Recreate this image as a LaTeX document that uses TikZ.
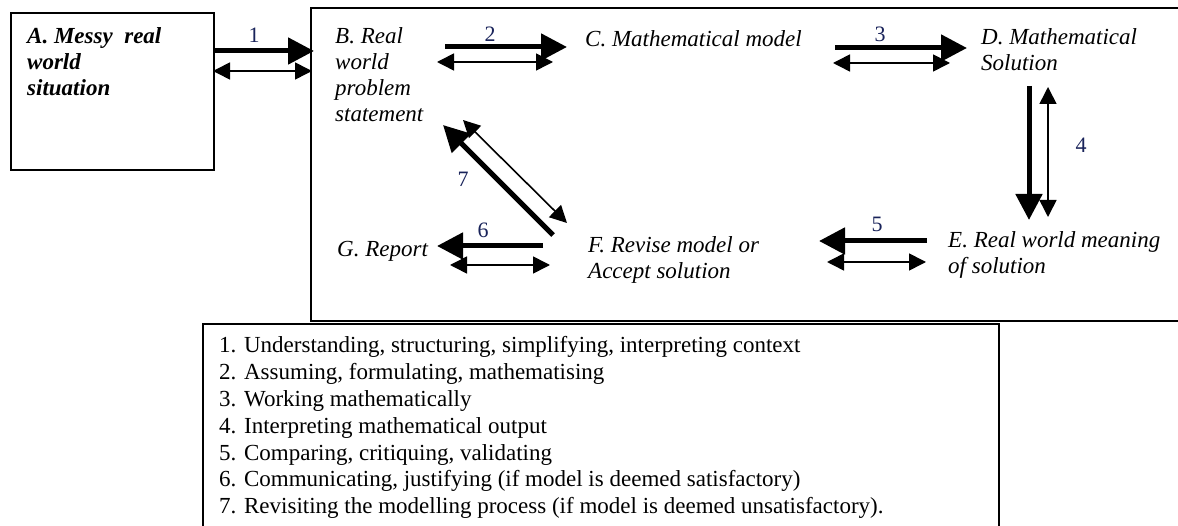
\documentclass[tikz,border=0pt]{standalone}
\usepackage{fontspec}
\setmainfont{Liberation Serif}
\usetikzlibrary{arrows.meta}
\definecolor{numblue}{RGB}{25,35,90}
\newcommand\mlines[1]{\parbox[t]{400pt}{\raggedright #1}}
\newcommand\widelines[1]{\parbox[t]{900pt}{\raggedright #1}}
\begin{document}
\begin{tikzpicture}[x=1pt,y=-1pt,
  box/.style={draw, line width=1.6pt, inner sep=0pt},
  lbl/.style={font=\fontsize{23}{26}\selectfont\itshape, anchor=base west, inner sep=0pt},
  num/.style={font=\fontsize{22}{26}\selectfont, text=numblue, anchor=base, inner sep=0pt},
  bigarrow/.style={line width=5pt, -{Triangle[length=26pt,width=26pt]}},
  smallarrow/.style={line width=1.6pt, {Triangle[length=17pt,width=17pt]}-{Triangle[length=17pt,width=17pt]}},
]
\clip (0,0) rectangle (1178,526);
\fill[white] (0,0) rectangle (1178,526);

% boxes
\node[box, anchor=north west, minimum width=203pt, minimum height=157pt] (A) at (10,12) {};
\node[box, anchor=north west, minimum width=900pt, minimum height=313pt] (frame) at (310,7) {};
\node[box, anchor=north west, minimum width=796pt, minimum height=260pt] (legbox) at (202,323) {};

% texts
\node[lbl, font=\fontsize{23}{26}\selectfont\bfseries\itshape] (tA) at (27,44) {\mlines{A. Messy\ \ real\\world\\situation}};
\node[lbl] (tB) at (335,44) {\mlines{B. Real\\world\\problem\\statement}};
\node[lbl] (tC) at (585,47) {C. Mathematical model};
\node[lbl] (tD) at (981,45) {\mlines{D. Mathematical\\Solution}};
\node[lbl] (tE) at (948,248) {\mlines{E. Real world meaning\\of solution}};
\node[lbl] (tF) at (588,253) {\mlines{F. Revise model or\\Accept solution}};
\node[lbl] (tG) at (337,257) {G. Report};

% legend
\node[anchor=base west, inner sep=0pt, font=\fontsize{23}{26.8}\selectfont] (legend) at (219,353) {\widelines{%
1. Understanding, structuring, simplifying, interpreting context\\
2. Assuming, formulating, mathematising\\
3. Working mathematically\\
4. Interpreting mathematical output\\
5. Comparing, critiquing, validating\\
6. Communicating, justifying (if model is deemed satisfactory)\\
7. Revisiting the modelling process (if model is deemed unsatisfactory).}};

% arrow end points
\coordinate (p1a) at (214,51);  \coordinate (p1b) at (314,51);
\coordinate (q1a) at (213,71);  \coordinate (q1b) at (312,71);
\coordinate (p2a) at (445,47);  \coordinate (p2b) at (567,47);
\coordinate (q2a) at (437,62);  \coordinate (q2b) at (553,62);
\coordinate (p3a) at (835,48);  \coordinate (p3b) at (967,48);
\coordinate (q3a) at (833,63);  \coordinate (q3b) at (950,63);
\coordinate (p4a) at (1029,86); \coordinate (p4b) at (1029,220);
\coordinate (q4a) at (1048,87); \coordinate (q4b) at (1048,217);
\coordinate (p5a) at (927,241); \coordinate (p5b) at (819,241);
\coordinate (q5a) at (827,262); \coordinate (q5b) at (926,262);
\coordinate (p6a) at (543,246); \coordinate (p6b) at (437,246);
\coordinate (q6a) at (450,265); \coordinate (q6b) at (550,265);
\coordinate (p7a) at (553,235); \coordinate (p7b) at (443,125);
\coordinate (q7a) at (463,120); \coordinate (q7b) at (567,223);

\draw[bigarrow] (p1a) -- (p1b);  \draw[smallarrow] (q1a) -- (q1b);
\draw[bigarrow] (p2a) -- (p2b);  \draw[smallarrow] (q2a) -- (q2b);
\draw[bigarrow] (p3a) -- (p3b);  \draw[smallarrow] (q3a) -- (q3b);
\draw[bigarrow] (p4a) -- (p4b);  \draw[smallarrow] (q4a) -- (q4b);
\draw[bigarrow] (p5a) -- (p5b);  \draw[smallarrow] (q5a) -- (q5b);
\draw[bigarrow] (p6a) -- (p6b);  \draw[smallarrow] (q6a) -- (q6b);
\draw[bigarrow] (p7a) -- (p7b);  \draw[smallarrow] (q7a) -- (q7b);

% numbers
\node[num] (n1) at (254,43) {1};
\node[num] (n2) at (490,42) {2};
\node[num] (n3) at (880,42) {3};
\node[num] (n4) at (1081,153) {4};
\node[num] (n5) at (877,232) {5};
\node[num] (n6) at (483,238) {6};
\node[num] (n7) at (463,187) {7};
\end{tikzpicture}
\end{document}
